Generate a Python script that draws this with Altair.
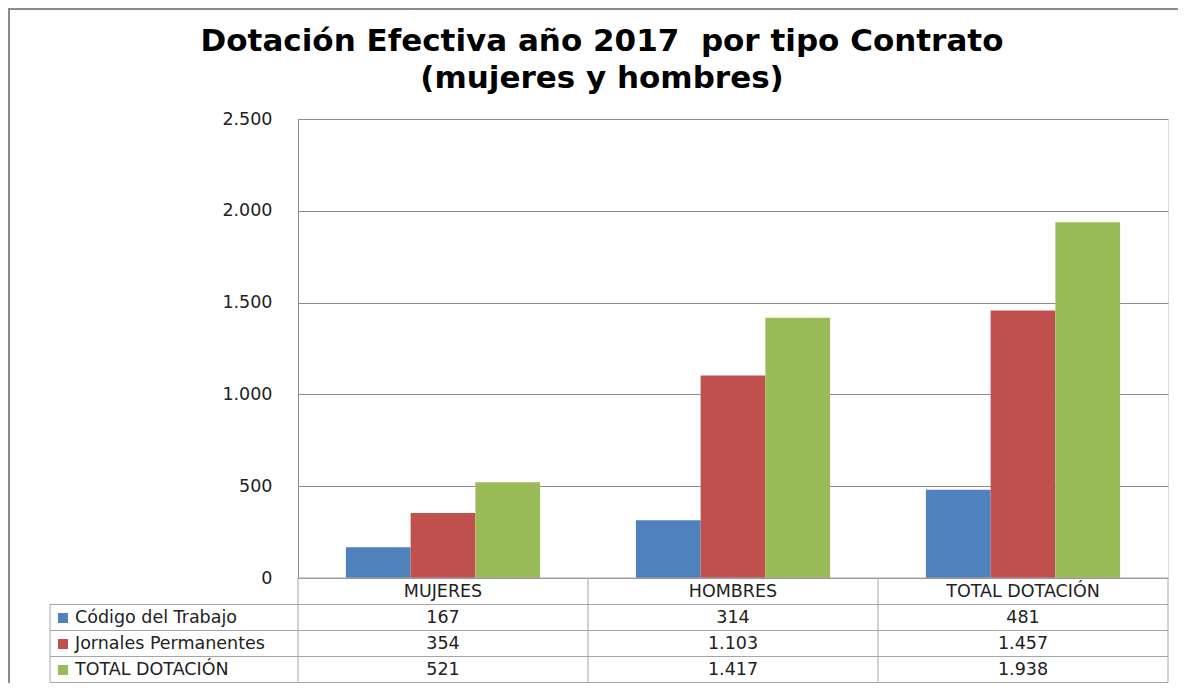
import altair as alt
import pandas as pd

categories = ["MUJERES", "HOMBRES", "TOTAL DOTACIÓN"]
series = ["Código del Trabajo", "Jornales Permanentes", "TOTAL DOTACIÓN"]
codigo = [167, 314, 481]
jornales = [354, 1103, 1457]
total = [521, 1417, 1938]
colors = ["#4F81BD", "#C0504D", "#9BBB59"]
title_lines = ["Dotación Efectiva año 2017\u00a0 por tipo Contrato", "(mujeres y hombres)"]

def fmt(v):
    return f"{v:,}".replace(",", ".")

rows = []
for s_i, (s, vals) in enumerate(zip(series, [codigo, jornales, total])):
    for c, v in zip(categories, vals):
        rows.append({"cat": c, "serie": s, "sidx": s_i, "value": v, "label": fmt(v)})
df = pd.DataFrame(rows)

W, H = 870, 459
FONT = "DejaVu Sans"
FS = 17.5
GRAY = "#8c8c8c"
TGRAY = "#a6a6a6"
TXT = "#222222"

xscale = alt.Scale(domain=categories, paddingInner=0, paddingOuter=0)
cscale = alt.Scale(domain=series, range=colors)

bars = alt.Chart(df).mark_bar().encode(
    x=alt.X("cat:N", scale=xscale, axis=None, sort=categories),
    xOffset=alt.XOffset("serie:N", sort=series, scale=alt.Scale(domain=series, paddingOuter=0.74, paddingInner=0)),
    y=alt.Y("value:Q", scale=alt.Scale(domain=[0, 2500]),
            axis=alt.Axis(values=[0, 500, 1000, 1500, 2000, 2500], title=None,
                          labelExpr="replace(format(datum.value, ','), ',', '.')",
                          grid=True, gridColor=GRAY, gridWidth=1,
                          domain=True, domainColor=GRAY, ticks=False,
                          labelPadding=26, labelFontSize=FS, labelFont=FONT,
                          labelColor=TXT)),
    color=alt.Color("serie:N", scale=cscale, legend=None),
)

row_lines = [459, 485.5, 511.5, 537.5, 563.5]
row_centers = [472.5, 499, 525, 551]

hdr_df = pd.DataFrame({"cat": categories})
hdr = alt.Chart(hdr_df).mark_text(font=FONT, fontSize=FS, color=TXT, baseline="middle").encode(
    x=alt.X("cat:N", scale=xscale, sort=categories),
    y=alt.value(row_centers[0]),
    text="cat:N",
)

val_layers = []
for i, s in enumerate(series):
    sub = df[df["serie"] == s]
    val_layers.append(
        alt.Chart(sub).mark_text(font=FONT, fontSize=FS, color=TXT, baseline="middle").encode(
            x=alt.X("cat:N", scale=xscale, sort=categories),
            y=alt.value(row_centers[i + 1]),
            text="label:N",
        )
    )

ser_df = pd.DataFrame({"serie": series, "sidx": [0, 1, 2]})
lab_layers = []
for i, s in enumerate(series):
    sub = ser_df[ser_df["serie"] == s]
    lab_layers.append(
        alt.Chart(sub).mark_text(font=FONT, fontSize=FS, color=TXT, baseline="middle", align="left").encode(
            x=alt.value(-223), y=alt.value(row_centers[i + 1]), text="serie:N")
    )
    lab_layers.append(
        alt.Chart(sub).mark_square(size=100, opacity=1).encode(
            x=alt.value(-235), y=alt.value(row_centers[i + 1]),
            color=alt.Color("serie:N", scale=cscale, legend=None))
    )

one = pd.DataFrame({"k": [0]})
grid = []
grid.append(alt.Chart(one).mark_rule(color=TGRAY, strokeWidth=1).encode(
    x=alt.value(0), x2=alt.value(W), y=alt.value(row_lines[0])))
for yl in row_lines[1:]:
    grid.append(alt.Chart(one).mark_rule(color=TGRAY, strokeWidth=1).encode(
        x=alt.value(-248), x2=alt.value(W), y=alt.value(yl)))
for xl in [0, 290, 580, W]:
    grid.append(alt.Chart(one).mark_rule(color=TGRAY, strokeWidth=1).encode(
        x=alt.value(xl), y=alt.value(row_lines[0]), y2=alt.value(row_lines[-1])))
grid.append(alt.Chart(one).mark_rule(color=TGRAY, strokeWidth=1).encode(
    x=alt.value(-248), y=alt.value(row_lines[1]), y2=alt.value(row_lines[-1])))

frame = [
    alt.Chart(one).mark_rule(color=GRAY, strokeWidth=2).encode(
        x=alt.value(-289), y=alt.value(-110), y2=alt.value(570)),
    alt.Chart(one).mark_rule(color=GRAY, strokeWidth=2).encode(
        x=alt.value(-290), x2=alt.value(W + 12), y=alt.value(-110)),
]

t_df = pd.DataFrame({"t": title_lines, "i": [0, 1]})
titles = []
for i, ty in enumerate([-77, -40]):
    titles.append(alt.Chart(t_df[t_df["i"] == i]).mark_text(
        font=FONT, fontSize=31, fontWeight="bold", color="#000000", baseline="middle", align="center").encode(
        x=alt.value(304), y=alt.value(ty), text="t:N"))

chart = alt.layer(bars, hdr, *val_layers, *lab_layers, *grid, *frame, *titles).properties(
    width=W, height=H,
    autosize=alt.AutoSizeParams(type="none"),
    padding={"left": 290, "top": 111, "right": 10, "bottom": 105},
).configure_view(stroke=None).configure(background="white")

chart.save("out.html", embed_options={"renderer": "svg", "actions": False})
